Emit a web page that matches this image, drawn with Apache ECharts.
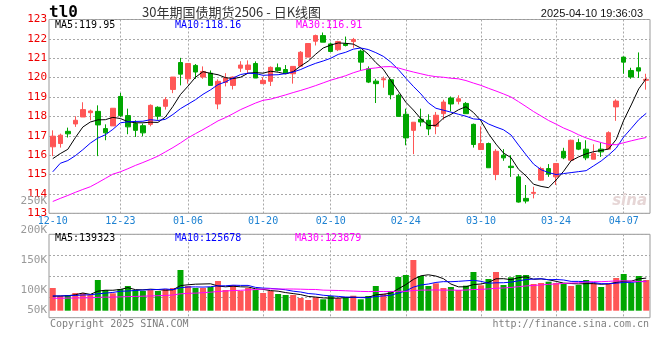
<!DOCTYPE html>
<html><head><meta charset="utf-8">
<script src="https://cdn.jsdelivr.net/npm/echarts@6/dist/echarts.min.js"></script>
<style>html,body{margin:0;padding:0;background:#fff}#c{width:660px;height:360px}</style>
</head><body><div id="c"></div><script>
const dates = ['2024-12-10','2024-12-11','2024-12-12','2024-12-13','2024-12-16','2024-12-17','2024-12-18','2024-12-19','2024-12-20','2024-12-23','2024-12-24','2024-12-25','2024-12-26','2024-12-27','2024-12-30','2024-12-31','2025-01-02','2025-01-03','2025-01-06','2025-01-07','2025-01-08','2025-01-09','2025-01-10','2025-01-13','2025-01-14','2025-01-15','2025-01-16','2025-01-17','2025-01-20','2025-01-21','2025-01-22','2025-01-23','2025-01-24','2025-01-27','2025-02-05','2025-02-06','2025-02-07','2025-02-10','2025-02-11','2025-02-12','2025-02-13','2025-02-14','2025-02-17','2025-02-18','2025-02-19','2025-02-20','2025-02-21','2025-02-24','2025-02-25','2025-02-26','2025-02-27','2025-02-28','2025-03-03','2025-03-04','2025-03-05','2025-03-06','2025-03-07','2025-03-10','2025-03-11','2025-03-12','2025-03-13','2025-03-14','2025-03-17','2025-03-18','2025-03-19','2025-03-20','2025-03-21','2025-03-24','2025-03-25','2025-03-26','2025-03-27','2025-03-28','2025-03-31','2025-04-01','2025-04-02','2025-04-03','2025-04-07','2025-04-08','2025-04-09','2025-04-10'];
const tickDates = ['2024-12-10','2024-12-23','2025-01-06','2025-01-20','2025-02-10','2025-02-24','2025-03-10','2025-03-24','2025-04-07'];
const gridDates = ['2024-12-23','2025-01-06','2025-01-20','2025-02-10','2025-02-24','2025-03-10','2025-03-24','2025-04-07'];

const open = [116.43,116.60,117.23,117.61,117.97,118.19,118.26,117.37,117.51,119.03,118.04,117.63,117.52,117.59,118.47,118.52,119.39,120.78,119.94,120.63,120.03,120.23,118.64,119.75,119.60,120.49,120.42,120.73,119.69,119.81,120.51,120.42,120.20,120.59,121.06,121.88,122.17,121.74,121.44,121.74,121.86,121.37,120.46,119.82,119.89,119.89,119.09,118.11,117.28,117.85,117.80,117.49,118.14,118.95,118.78,118.67,117.59,116.29,116.60,115.00,116.00,115.43,114.88,113.77,114.03,114.71,115.31,114.88,116.20,115.74,116.65,116.31,115.79,116.31,116.31,118.49,121.06,120.37,120.51,119.86];
const close = [116.98,117.03,117.10,117.80,118.35,118.28,117.56,117.15,118.42,118.04,117.46,117.28,117.15,118.57,118.01,118.86,120.03,120.18,120.73,120.29,120.32,119.60,119.81,119.99,120.03,120.65,120.65,119.98,119.86,120.53,120.37,120.23,120.58,121.31,121.76,122.17,121.83,121.35,121.86,121.66,121.97,120.80,119.77,119.69,119.94,119.12,118.00,116.89,117.70,117.71,117.35,118.06,118.74,118.64,118.91,118.14,116.55,116.60,115.35,116.20,115.86,115.36,113.58,113.63,114.08,115.31,115.02,115.57,115.86,116.77,116.31,115.86,116.08,116.17,117.16,118.79,120.80,120.03,120.34,119.91];
const high = [117.28,117.11,117.42,118.01,118.73,118.35,118.57,117.59,118.42,119.21,118.40,117.80,117.63,118.62,118.52,119.00,120.03,121.02,120.73,120.70,120.58,120.37,119.91,120.23,120.06,120.85,120.89,120.84,120.03,120.58,120.73,120.65,120.58,121.37,121.76,122.22,122.33,121.81,121.90,122.12,122.05,121.45,120.58,119.94,120.06,119.94,119.17,118.40,117.70,118.40,118.11,118.23,118.86,119.03,119.09,118.74,117.63,117.49,116.65,116.31,116.31,116.00,115.02,114.46,114.37,115.40,115.54,115.57,116.38,116.80,116.85,116.77,116.56,116.65,117.23,118.88,121.09,120.51,121.30,120.20];
const low = [115.95,116.39,116.91,117.46,117.97,117.80,115.95,116.77,117.51,117.97,117.08,116.94,116.98,117.49,117.83,118.35,119.20,119.60,119.69,119.94,119.94,119.60,118.37,119.55,119.39,120.29,120.20,119.98,119.69,119.57,120.32,120.20,119.69,120.59,121.06,121.66,121.83,121.35,121.37,121.61,121.54,120.37,119.72,118.69,119.48,118.88,117.97,116.51,116.05,117.49,117.03,117.08,117.83,118.26,118.62,118.14,116.39,116.29,115.35,114.71,115.71,114.88,113.55,113.51,113.77,114.68,114.88,114.46,115.79,115.74,116.26,115.74,115.79,115.91,116.31,117.77,120.20,119.94,119.98,119.38];

const ma5 = [115.82,116.08,116.30,116.90,117.45,117.71,117.82,117.83,117.95,117.89,117.73,117.67,117.67,117.70,117.69,117.97,118.52,119.13,119.56,120.02,120.31,120.22,120.15,120.00,119.95,120.02,120.23,120.26,120.23,120.33,120.28,120.19,120.31,120.60,120.85,121.21,121.53,121.68,121.79,121.77,121.73,121.53,121.21,120.78,120.43,119.86,119.30,118.73,118.33,117.88,117.53,117.54,117.91,118.10,118.34,118.50,118.20,117.77,117.11,116.57,116.11,115.87,115.27,114.93,114.50,114.39,114.32,114.72,115.17,115.71,115.91,116.07,116.18,116.24,116.32,116.81,117.80,118.59,119.42,119.95];
const ma10 = [115.14,115.58,115.72,115.97,116.28,116.62,116.88,117.05,117.33,117.67,117.72,117.74,117.75,117.83,117.79,117.85,118.10,118.40,118.63,118.86,119.14,119.37,119.64,119.78,119.98,120.16,120.23,120.21,120.12,120.14,120.15,120.21,120.29,120.42,120.59,120.74,120.86,121.00,121.20,121.31,121.47,121.53,121.45,121.29,121.10,120.80,120.42,119.97,119.55,119.16,118.70,118.42,118.32,118.22,118.11,118.01,117.87,117.84,117.61,117.45,117.31,117.04,116.52,116.02,115.54,115.25,115.10,115.00,115.05,115.10,115.15,115.20,115.45,115.70,116.01,116.36,116.94,117.38,117.83,118.16];
const ma30 = [113.61,113.77,113.92,114.08,114.23,114.37,114.58,114.80,115.02,115.14,115.30,115.47,115.62,115.78,115.95,116.17,116.39,116.63,116.89,117.11,117.32,117.54,117.77,117.94,118.14,118.35,118.52,118.69,118.83,118.89,119.00,119.11,119.23,119.34,119.46,119.59,119.73,119.87,119.98,120.10,120.25,120.37,120.46,120.50,120.56,120.57,120.50,120.39,120.29,120.20,120.11,120.05,120.02,119.97,119.94,119.85,119.72,119.60,119.45,119.31,119.16,119.00,118.76,118.51,118.25,118.02,117.79,117.60,117.40,117.24,117.05,116.89,116.76,116.65,116.55,116.54,116.64,116.74,116.83,116.91];

const volume = [96900,62800,67000,75600,75600,67000,131100,88400,74300,92700,105500,88400,84100,88400,84100,92700,96900,173800,105500,96900,96900,101200,126800,88400,109700,84100,96900,88400,75600,84100,71300,67000,67000,54200,45700,57200,48700,62800,52900,57200,64000,48700,62800,105500,71300,84100,143900,152400,216500,148200,105500,117000,96900,101200,88400,106800,165200,108500,135400,165200,109700,142600,152400,152400,114000,118300,123800,118300,114000,105500,109700,131100,117000,101200,114000,139700,156700,119600,148200,131100];
const volMa5 = [62000,62800,64000,68000,75600,69600,83300,87500,87300,90700,98400,89900,89000,91800,90100,87500,89200,107200,110600,113200,114000,114900,105500,102000,104600,102000,101200,93500,90900,85800,83300,77300,73000,68700,61000,58200,54600,53700,53500,55800,57100,57100,57100,67600,70500,74500,93500,111400,133600,149000,153300,147900,136800,113800,101800,102100,111700,114000,120900,136200,136800,132300,141100,144500,134200,135900,132200,125400,117700,116000,114300,115700,115500,112900,114600,120600,125700,126200,135600,139323];
const volMa10 = [63000,63000,64000,65000,67000,68000,72000,75000,78000,83100,84000,86600,88300,89600,90400,93000,89600,98100,101200,101600,100800,102100,106300,106300,108900,108000,108000,99500,96500,95200,92700,89200,83300,79800,73400,70700,65900,63400,61100,58400,57700,55800,55400,60600,63100,65800,75300,84300,100600,109700,113900,120700,124100,123700,125400,127700,129800,125400,117300,119000,119400,122000,127500,132700,135200,136400,132200,133200,131100,125100,125100,124000,120400,115300,115300,117400,120700,120900,124300,125678];
const volMa30 = [53000,53000,54000,54000,55000,55000,57000,58000,58000,59000,60000,61000,62000,63000,64000,65000,67000,72000,74000,75000,77000,79000,82000,84000,86000,87000,89000,90000,92000,93300,92500,92600,92600,91900,90900,90600,87800,87000,86300,85100,83700,82400,81700,82200,81800,81500,83100,82400,86100,87800,88100,88600,87600,88000,87300,88100,90400,91000,93000,95700,97000,99500,102400,105600,107900,110000,112500,114300,116300,117900,119500,122200,124000,123900,125300,127200,127600,126500,124200,123879];

const codeText = 'tl0';
const titleText = '30年期国债期货2506 - 日K线图';
const stampText = '2025-04-10 19:36:03';

const UP = '#ff5656', DOWN = '#00a600';
const MONO = '"DejaVu Sans Mono", monospace';
const GRIDC = '#a8a8a8';
const last = dates.length - 1;

const candles = dates.map((d, i) => [open[i], close[i], low[i], high[i]]);
const volItems = dates.map((d, i) => ({ value: volume[i], itemStyle: { color: close[i] >= open[i] ? UP : DOWN } }));

function txt(x, y, text, font, fill, align) {
  return { type: 'text', x: x, y: y, silent: true, z: 100,
    style: { text: text, font: font, fill: fill, align: align || 'left', verticalAlign: 'middle', textAlign: align || 'left', textVerticalAlign: 'middle' } };
}

const catAxisBase = (gi, showLabel) => ({
  type: 'category', gridIndex: gi, data: dates, boundaryGap: true,
  axisLine: { show: false }, axisTick: { show: false },
  axisLabel: { show: showLabel, interval: (i, v) => tickDates.includes(v), formatter: v => v.slice(5),
    color: '#1e82d2', fontFamily: MONO, fontSize: 10, margin: 3 },
  splitLine: { show: true, alignWithLabel: true, interval: (i, v) => gridDates.includes(v), lineStyle: { color: GRIDC, type: [2, 2], width: 1 } }
});

const option = {
  animation: false,
  backgroundColor: '#fff',
  textStyle: { fontFamily: MONO },
  grid: [
    { left: 49, right: 10, top: 19.5, height: 193.8, show: true, borderColor: '#999', borderWidth: 1, containLabel: false, outerBoundsMode: 'none' },
    { left: 49, right: 10, top: 234.3, height: 83.4, show: true, borderColor: '#999', borderWidth: 1, containLabel: false, outerBoundsMode: 'none' },
    { left: 49, right: 10, top: 200.7, height: 118.6, show: false, containLabel: false, outerBoundsMode: 'none' }
  ],
  xAxis: [
    catAxisBase(0, true),
    catAxisBase(1, false),
    { type: 'category', gridIndex: 2, data: dates, show: false }
  ],
  yAxis: [
    { type: 'value', gridIndex: 0, min: 113, max: 123, interval: 1,
      axisLine: { show: false }, axisTick: { show: false },
      axisLabel: { color: '#ee0000', fontFamily: MONO, fontSize: 11, margin: 2 },
      splitLine: { show: true, lineStyle: { color: GRIDC, type: [2, 2], width: 1 } } },
    { type: 'value', gridIndex: 1, min: -29900, max: 326200, show: false, splitLine: { show: false } },
    { type: 'value', gridIndex: 1, min: 0, max: 4, interval: 1,
      axisLine: { show: false }, axisTick: { show: false }, axisLabel: { show: false },
      splitLine: { show: true, lineStyle: { color: GRIDC, type: [2, 2], width: 1 } } },
    { type: 'value', gridIndex: 2, min: 50000, max: 250000, interval: 50000,
      axisLine: { show: false }, axisTick: { show: false }, splitLine: { show: false },
      axisLabel: { color: '#9a9a9a', fontFamily: MONO, fontSize: 11, margin: 2,
        formatter: v => v === 50000 ? '{b|' + (v / 1000) + 'K}' : '{a|' + (v / 1000) + 'K}',
        rich: { a: { color: '#9a9a9a', fontFamily: MONO, fontSize: 11 },
                b: { color: '#9a9a9a', fontFamily: MONO, fontSize: 11, padding: [0, 0, 18, 0] } } } }
  ],
  series: [
    { type: 'candlestick', xAxisIndex: 0, yAxisIndex: 0, data: candles, barWidth: 5, z: 2,
      itemStyle: { color: UP, color0: DOWN, borderColor: UP, borderColor0: DOWN, borderWidth: 1 } },
    { type: 'line', xAxisIndex: 0, yAxisIndex: 0, data: ma5, showSymbol: false, symbol: 'none', z: 5, lineStyle: { color: '#000', width: 1 }, itemStyle: { color: '#000' } },
    { type: 'line', xAxisIndex: 0, yAxisIndex: 0, data: ma10, showSymbol: false, symbol: 'none', z: 5, lineStyle: { color: '#0000ff', width: 1 }, itemStyle: { color: '#0000ff' } },
    { type: 'line', xAxisIndex: 0, yAxisIndex: 0, data: ma30, showSymbol: false, symbol: 'none', z: 5, lineStyle: { color: '#ff00ff', width: 1 }, itemStyle: { color: '#ff00ff' } },
    { type: 'bar', xAxisIndex: 1, yAxisIndex: 1, data: volItems, barWidth: 6, z: 2 },
    { type: 'line', xAxisIndex: 1, yAxisIndex: 1, data: volMa5, showSymbol: false, symbol: 'none', z: 5, lineStyle: { color: '#000', width: 1 }, itemStyle: { color: '#000' } },
    { type: 'line', xAxisIndex: 1, yAxisIndex: 1, data: volMa10, showSymbol: false, symbol: 'none', z: 5, lineStyle: { color: '#0000ff', width: 1 }, itemStyle: { color: '#0000ff' } },
    { type: 'line', xAxisIndex: 1, yAxisIndex: 1, data: volMa30, showSymbol: false, symbol: 'none', z: 5, lineStyle: { color: '#ff00ff', width: 1 }, itemStyle: { color: '#ff00ff' } }
  ],
  graphic: [
    txt(49, 12.5, codeText, 'bold 16px ' + MONO, '#000'),
    txt(142, 12, titleText, '13px "Noto Sans CJK SC", sans-serif', '#333'),
    txt(643, 14, stampText, '11px "Liberation Sans", sans-serif', '#111', 'right'),
    txt(55, 25, 'MA5:' + ma5[last].toFixed(2), '10px ' + MONO, '#000'),
    txt(175, 25, 'MA10:' + ma10[last].toFixed(2), '10px ' + MONO, '#0000ff'),
    txt(296, 25, 'MA30:' + ma30[last].toFixed(2), '10px ' + MONO, '#ff00ff'),
    txt(55, 238.5, 'MA5:' + volMa5[last], '10px ' + MONO, '#000'),
    txt(175, 238.5, 'MA10:' + volMa10[last], '10px ' + MONO, '#0000ff'),
    txt(295, 238.5, 'MA30:' + volMa30[last], '10px ' + MONO, '#ff00ff'),
    txt(50, 324.5, 'Copyright 2025 SINA.COM', '10px ' + MONO, '#808080'),
    txt(649, 324.5, 'http://finance.sina.com.cn', '10px ' + MONO, '#808080', 'right'),
    txt(647, 201, 'sina', 'bold italic 15px "DejaVu Sans", sans-serif', '#e6d6d6', 'right')
  ]
};

const chart = echarts.init(document.getElementById('c'), null, { renderer: 'canvas' });
chart.setOption(option);
</script></body></html>
